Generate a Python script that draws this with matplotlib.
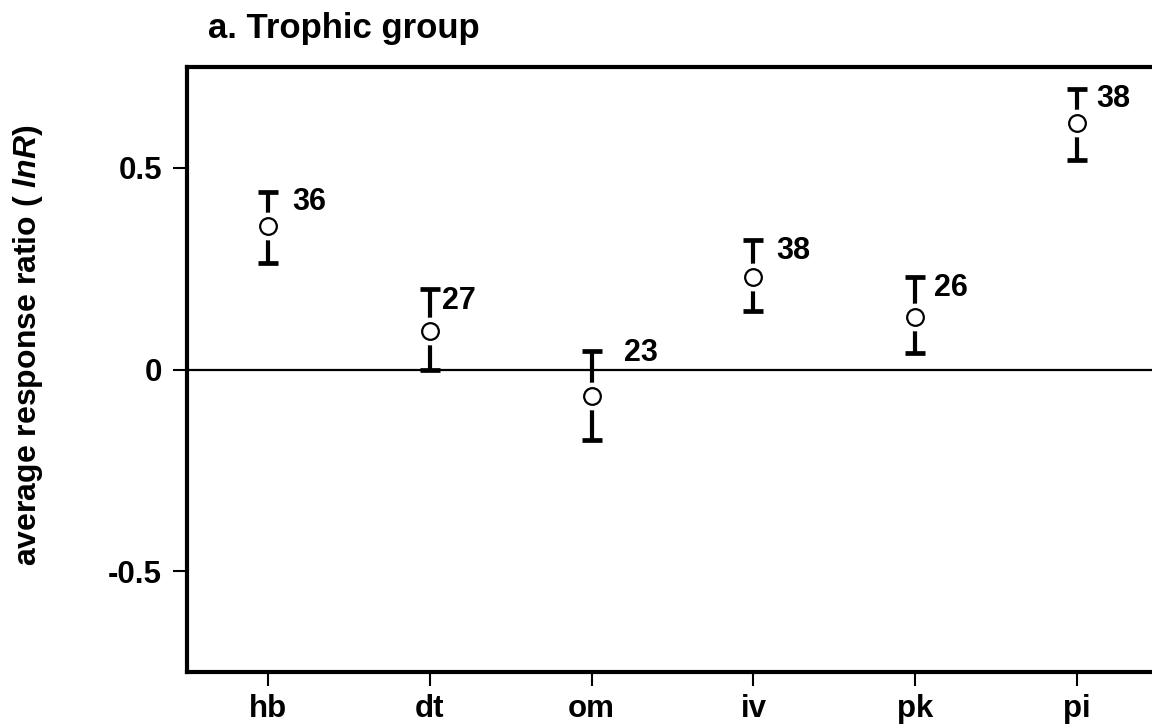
import matplotlib

matplotlib.use("Agg")

import matplotlib.pyplot as plt
import numpy as np

plt.rcParams["font.family"] = ["Liberation Sans", "DejaVu Sans"]
plt.rcParams["font.weight"] = "bold"
plt.rcParams["mathtext.fontset"] = "custom"
plt.rcParams["mathtext.it"] = "Liberation Sans:italic:bold"
plt.rcParams["mathtext.rm"] = "Liberation Sans:bold"

# data
groups = ["hb", "dt", "om", "iv", "pk", "pi"]
mean_lnr = [0.355, 0.095, -0.065, 0.230, 0.130, 0.610]
upper = [0.440, 0.200, 0.045, 0.320, 0.230, 0.695]
lower = [0.265, 0.000, -0.175, 0.145, 0.040, 0.520]
n_studies = [36, 27, 23, 38, 26, 38]
yticks = [-0.5, 0, 0.5]
ytick_labels = ["-0.5", "0", "0.5"]

# label offsets in pixels from the top of each bar (style, not data)
label_dx = [41, 29, 49, 40, 36, 36]
label_dy = [-10, -12, -2, -11, -11, -10]

fig = plt.figure(figsize=(11.52, 7.25), dpi=100)
fig.patch.set_facecolor("white")
ax = fig.add_axes([187 / 1152, 1 - 672 / 725, (1158 - 187) / 1152, (672 - 67) / 725])

x = np.arange(len(groups))
mean = np.array(mean_lnr)
yerr = np.vstack([mean - np.array(lower), np.array(upper) - mean])

ax.axhline(0, color="black", lw=1.6, zorder=1)
ax.errorbar(x, mean, yerr=yerr, fmt="none", ecolor="black", elinewidth=3,
            capsize=7.5, capthick=3.4, zorder=2)
# white halo so the whiskers stop short of the circle
ax.plot(x, mean, "o", ms=19, mfc="white", mec="white", zorder=3)
ax.plot(x, mean, "o", ms=12, mfc="white", mec="black", mew=1.6, zorder=4)

for i, n in enumerate(n_studies):
    ax.annotate(str(n), (x[i], upper[i]), xytext=(label_dx[i], label_dy[i]),
                textcoords="offset pixels", ha="center", va="center",
                fontsize=22, fontweight="bold")

ax.set_xlim(-0.5, 5.5)
ax.set_ylim(-0.75, 0.75)
ax.set_xticks(x)
ax.set_xticklabels(groups, fontsize=22.5, fontweight="bold")
ax.set_yticks(yticks)
ax.set_yticklabels(ytick_labels, fontsize=22.5, fontweight="bold")
ax.tick_params(axis="y", direction="out", length=10, width=1.5, pad=8)
ax.tick_params(axis="x", direction="out", length=10, width=1.5, pad=6)
for side in ["left", "bottom", "top", "right"]:
    ax.spines[side].set_linewidth(3)

fig.text(208 / 1152, 1 - 38 / 725, "a. Trophic group", ha="left", va="baseline",
         fontsize=25, fontweight="bold")
fig.text(28 / 1152, 1 - 345 / 725, r"average response ratio ( $\mathit{lnR}$)", rotation=90,
         ha="center", va="center", fontsize=23, fontweight="bold")

fig.savefig("out.png", dpi=100)
